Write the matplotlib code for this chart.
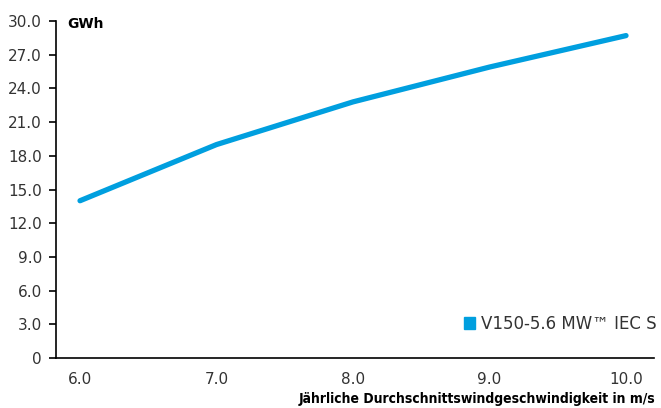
import matplotlib
matplotlib.use("Agg")
import matplotlib.pyplot as plt
from matplotlib.patches import Patch

wind = [6.0, 7.0, 8.0, 9.0, 10.0]
energy = [14.0, 19.0, 22.8, 25.9, 28.7]
yticks = [0, 3, 6, 9, 12, 15, 18, 21, 24, 27, 30]
ylabels = ["0"] + ["%.1f" % v for v in yticks[1:]]
xlabels = ["%.1f" % v for v in wind]
series = "V150-5.6 MW™ IEC S"
blue = "#009fdf"

plt.rcParams['font.family'] = ['DejaVu Sans']

fig = plt.figure(figsize=(6.61, 4.08), dpi=100)
ax = fig.add_axes([56 / 661, 1 - 358 / 408, (654 - 56) / 661, (358 - 21) / 408])

ax.plot(wind, energy, color=blue, lw=3.8, solid_capstyle="round", solid_joinstyle="round")

ax.set_xlim(5.824, 10.205)
ax.set_ylim(0, 30)
ax.set_yticks(yticks)
ax.set_yticklabels(ylabels)
ax.set_xticks(wind)
ax.set_xticklabels(xlabels)

for s in ["top", "right"]:
    ax.spines[s].set_visible(False)
ax.spines["left"].set_linewidth(1.2)
ax.spines["bottom"].set_linewidth(1.2)
ax.tick_params(axis="y", length=5, width=1.2, pad=5, labelsize=11, labelcolor="#333333")
ax.tick_params(axis="x", length=0, pad=10, labelsize=11, labelcolor="#333333")

fig.text(67 / 661, 1 - 24 / 408, "GWh", fontsize=10,
         fontweight="bold", ha="left", va="center")
fig.text(655 / 661, 1 - 399 / 408, "Jährliche Durchschnittswindgeschwindigkeit in m/s",
         fontsize=10, fontweight="bold", fontstretch="condensed", ha="right", va="center")

leg = ax.legend(handles=[Patch(color=blue, label=series)], loc="lower right",
                bbox_to_anchor=(1.03, 0.03), frameon=False, fontsize=12,
                handlelength=0.65, handleheight=0.75, handletextpad=0.4)
for t in leg.get_texts():
    t.set_color("#333333")

fig.savefig("out.png", dpi=100)
